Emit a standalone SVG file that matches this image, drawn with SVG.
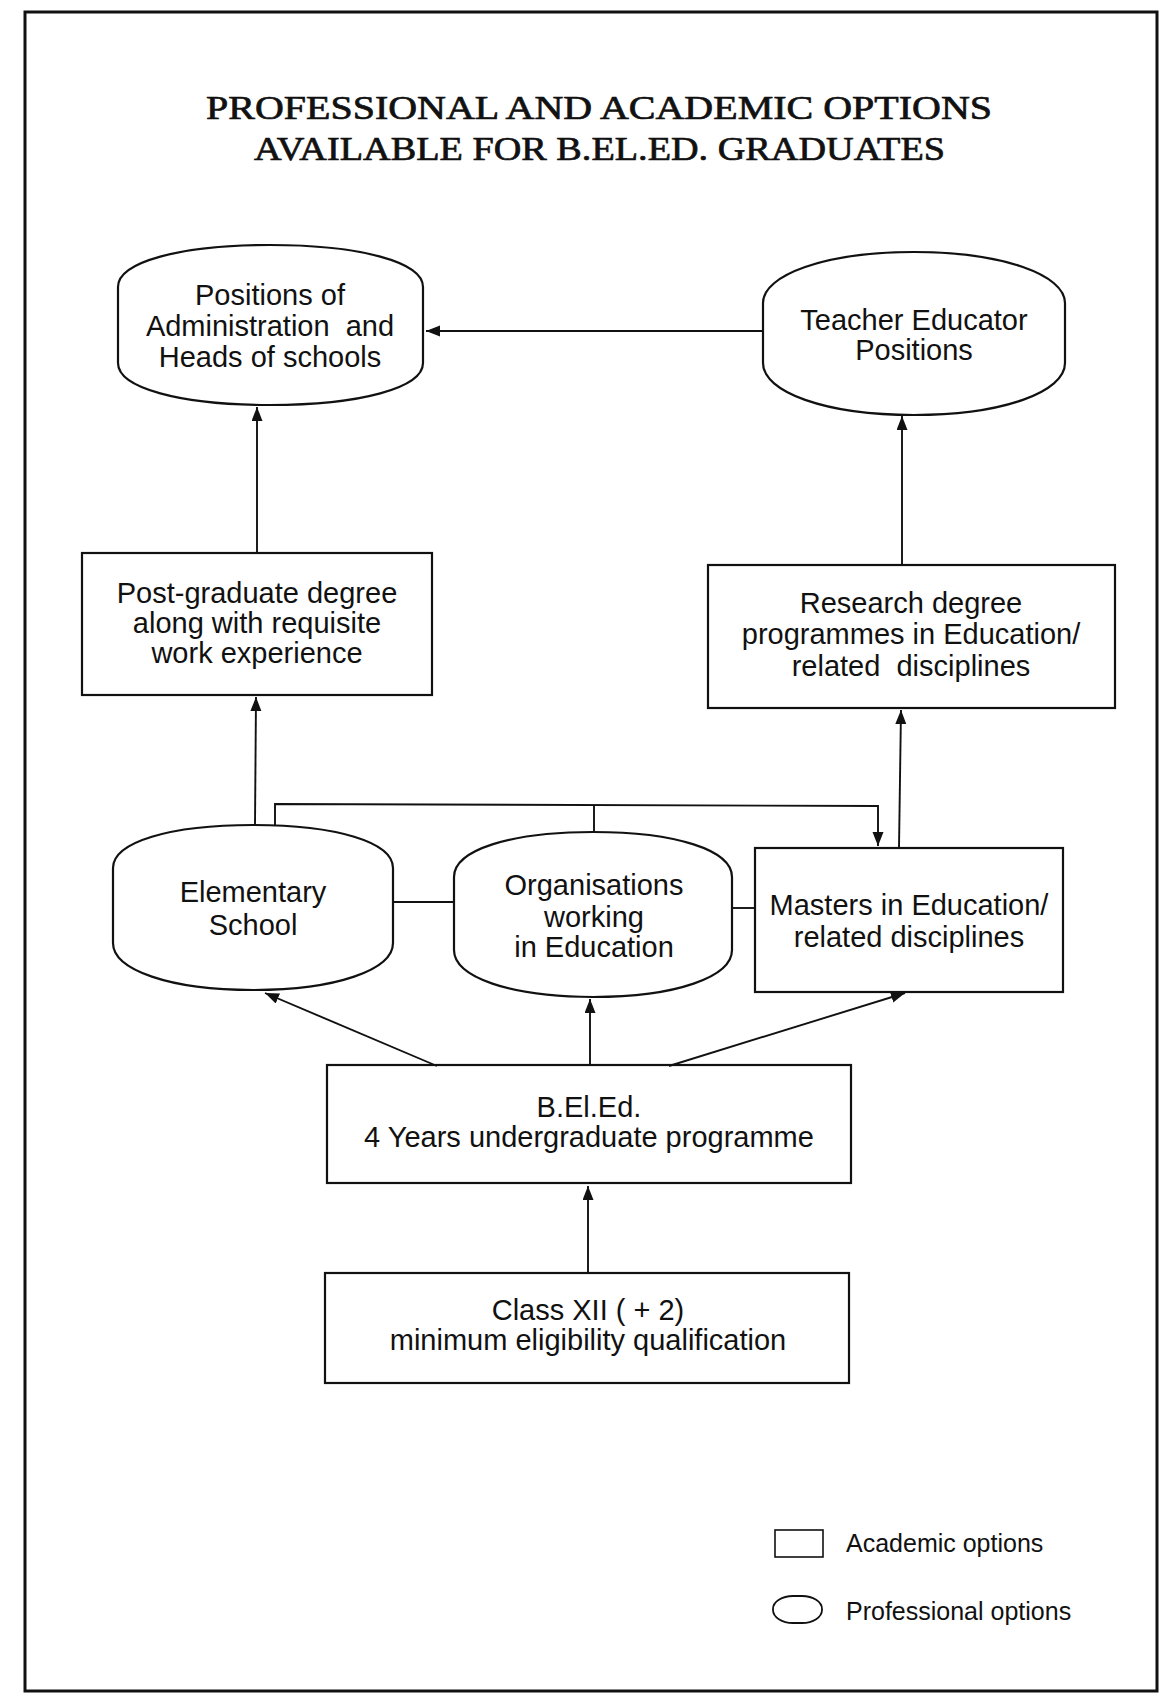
<svg xmlns="http://www.w3.org/2000/svg" width="1174" height="1698" viewBox="0 0 1174 1698">
<defs>
<marker id="arr" markerUnits="userSpaceOnUse" markerWidth="16" markerHeight="12" refX="14" refY="5.5" orient="auto">
<path d="M0,0 L14,5.5 L0,11 z" fill="#111"/>
</marker>
</defs>
<style>
.shape{fill:none;stroke:#111;stroke-width:2.2}
.conn{fill:none;stroke:#111;stroke-width:1.9}
.lbl{font-family:"Liberation Sans",Arial,sans-serif;font-size:29px;fill:#111;text-anchor:middle}
.leg{font-family:"Liberation Sans",Arial,sans-serif;font-size:25px;fill:#111}
.title{font-family:"Liberation Serif","Times New Roman",serif;font-size:34px;fill:#111;stroke:#111;stroke-width:0.7}
</style>
<rect width="1174" height="1698" fill="#fff"/>
<rect x="25" y="12" width="1132" height="1679" fill="none" stroke="#111" stroke-width="3"/>
<g id="title">
<text class="title" x="206" y="119" textLength="786" lengthAdjust="spacingAndGlyphs">PROFESSIONAL AND ACADEMIC OPTIONS</text>
<text class="title" x="254" y="160" textLength="691" lengthAdjust="spacingAndGlyphs">AVAILABLE FOR B.EL.ED. GRADUATES</text>
</g>
<g id="connectors">
<line class="conn" x1="763" y1="331" x2="426" y2="331" marker-end="url(#arr)"/>
<line class="conn" x1="257" y1="553" x2="257" y2="407" marker-end="url(#arr)"/>
<line class="conn" x1="902" y1="565" x2="902" y2="416" marker-end="url(#arr)"/>
<line class="conn" x1="255" y1="825" x2="256" y2="697" marker-end="url(#arr)"/>
<line class="conn" x1="899" y1="848" x2="901" y2="710" marker-end="url(#arr)"/>
<polyline class="conn" points="275,825 275,804 878,806 878,846" marker-end="url(#arr)"/>
<line class="conn" x1="594" y1="805" x2="594" y2="832"/>
<line class="conn" x1="393" y1="902" x2="454" y2="902"/>
<line class="conn" x1="732" y1="908" x2="755" y2="908"/>
<line class="conn" x1="437" y1="1066" x2="265" y2="993" marker-end="url(#arr)"/>
<line class="conn" x1="590" y1="1066" x2="590" y2="999" marker-end="url(#arr)"/>
<line class="conn" x1="669" y1="1066" x2="905" y2="993" marker-end="url(#arr)"/>
<line class="conn" x1="588" y1="1273" x2="588" y2="1186" marker-end="url(#arr)"/>
</g>
<g id="admin">
<path class="shape" d="M118,287 C118,262 180,245 270,245 C360,245 423,262 423,287 L423,363 C423,388 360,405 270,405 C180,405 118,388 118,363 Z"/>
<text class="lbl" x="270" y="305">Positions of</text>
<text class="lbl" x="270" y="336" xml:space="preserve">Administration  and</text>
<text class="lbl" x="270" y="367">Heads of schools</text>
</g>
<g id="teacher">
<path class="shape" d="M763,303 C763,275 825,252 914,252 C1003,252 1065,275 1065,303 L1065,363 C1065,392 1003,415 914,415 C825,415 763,392 763,363 Z"/>
<text class="lbl" x="914" y="330">Teacher Educator</text>
<text class="lbl" x="914" y="360">Positions</text>
</g>
<g id="postgrad">
<rect class="shape" x="82" y="553" width="350" height="142"/>
<text class="lbl" x="257" y="603">Post-graduate degree</text>
<text class="lbl" x="257" y="633">along with requisite</text>
<text class="lbl" x="257" y="663">work experience</text>
</g>
<g id="research">
<rect class="shape" x="708" y="565" width="407" height="143"/>
<text class="lbl" x="911" y="613">Research degree</text>
<text class="lbl" x="911" y="644">programmes in Education/</text>
<text class="lbl" x="911" y="676" xml:space="preserve">related  disciplines</text>
</g>
<g id="elementary">
<path class="shape" d="M113,868 C113,842 170,825 253,825 C336,825 393,842 393,868 L393,943 C393,970 336,990 253,990 C170,990 113,970 113,943 Z"/>
<text class="lbl" x="253" y="902">Elementary</text>
<text class="lbl" x="253" y="935">School</text>
</g>
<g id="organisations">
<path class="shape" d="M454,877 C454,850 510,832 593,832 C676,832 732,850 732,877 L732,950 C732,977 676,997 593,997 C510,997 454,977 454,950 Z"/>
<text class="lbl" x="594" y="895">Organisations</text>
<text class="lbl" x="594" y="927">working</text>
<text class="lbl" x="594" y="957">in Education</text>
</g>
<g id="masters">
<rect class="shape" x="755" y="848" width="308" height="144"/>
<text class="lbl" x="909" y="915">Masters in Education/</text>
<text class="lbl" x="909" y="947">related disciplines</text>
</g>
<g id="beled">
<rect class="shape" x="327" y="1065" width="524" height="118"/>
<text class="lbl" x="589" y="1117">B.El.Ed.</text>
<text class="lbl" x="589" y="1147">4 Years undergraduate programme</text>
</g>
<g id="classxii">
<rect class="shape" x="325" y="1273" width="524" height="110"/>
<text class="lbl" x="588" y="1320">Class XII ( + 2)</text>
<text class="lbl" x="588" y="1350">minimum eligibility qualification</text>
</g>
<g id="legend">
<rect x="775" y="1530" width="48" height="27" fill="none" stroke="#111" stroke-width="1.6"/>
<text class="leg" x="846" y="1552">Academic options</text>
<rect x="773" y="1596" width="49" height="27" rx="20" ry="13" fill="none" stroke="#111" stroke-width="1.8"/>
<text class="leg" x="846" y="1620">Professional options</text>
</g>
</svg>
